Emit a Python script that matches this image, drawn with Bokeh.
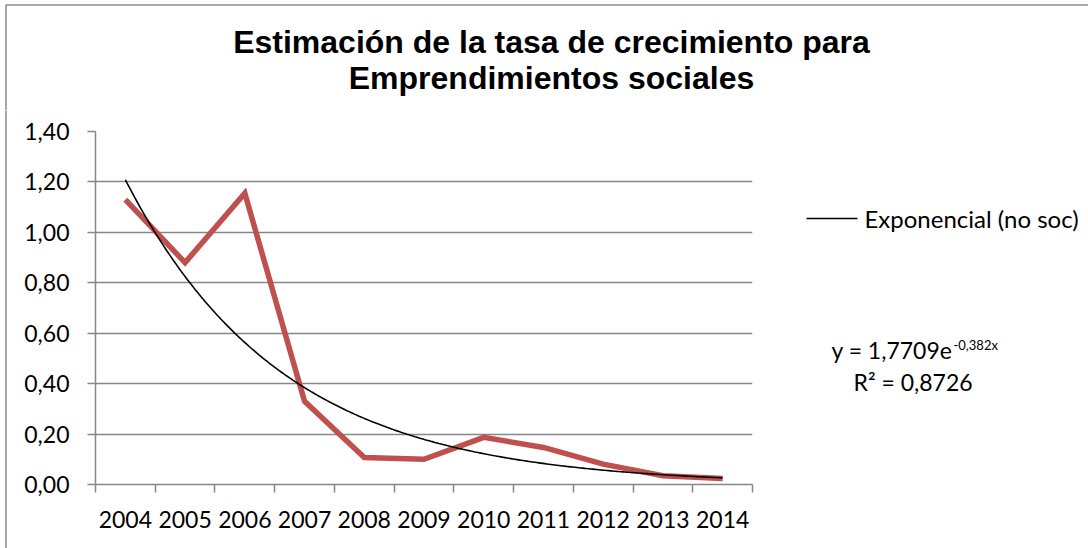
import numpy as np
from bokeh.plotting import figure
from bokeh.layouts import column, row
from bokeh.models import Range1d, FixedTicker, CustomJSTickFormatter, ColumnDataSource
from bokeh.core.properties import value
from bokeh.embed import file_html
from bokeh.resources import INLINE

# ---- data ----
YEARS = ["2004", "2005", "2006", "2007", "2008", "2009", "2010", "2011", "2012", "2013", "2014"]
SOCIAL = [1.13, 0.88, 1.155, 0.33, 0.107, 0.10, 0.187, 0.147, 0.081, 0.035, 0.024]
Y_TICKS = [0.0, 0.2, 0.4, 0.6, 0.8, 1.0, 1.2, 1.4]
TREND_A = 1.7709     # from the printed trendline equation
TREND_B = -0.382
TITLE_1 = "Estimación de la tasa de crecimiento para"
TITLE_2 = "Emprendimientos sociales"
LEGEND_LABEL = "Exponencial (no soc)"
EQ_MAIN = "y = 1,7709e"
EQ_SUP = "-0,382x"
R2_TEXT = "R² = 0,8726"

W, H = 1088, 548
TOP_H = 110            # height of the title strip
STRIP_W = 10           # left border strip
SIDE_X0 = 760          # where the right-hand side panel starts
FL, FR, FT, FB = 95, 752, 131, 484   # plot frame edges in page pixels
N = len(YEARS)
YMAX = 1.4

GRAY = "#878787"
BORDER = "#8c8c8c"
LABEL_FONT = "Lato"


def blank(width, height, x0, x1, y0, y1):
    f = figure(width=width, height=height, output_backend="svg", toolbar_location=None,
               x_range=Range1d(x0, x1), y_range=Range1d(y1, y0),
               x_axis_type=None, y_axis_type=None, min_border=0,
               frame_align=False)
    f.outline_line_color = None
    f.grid.visible = False
    f.background_fill_color = "white"
    f.border_fill_color = "white"
    return f


# ---- title strip (page pixel coordinates, y downward) ----
t = blank(W, TOP_H, 0, W, 0, TOP_H)
t.line([5.5, 5.5, W + 5], [TOP_H + 5, 4.5, 4.5], line_color=BORDER, line_width=1.5)
t.text(x=[551, 551], y=[41, 77], text=[TITLE_1, TITLE_2],
       text_font=value("Liberation Sans"), text_font_style="bold",
       text_font_size="32px", text_align="center", text_baseline="middle",
       text_color="black")

# ---- left border strip ----
ls = blank(STRIP_W, H - TOP_H, 0, STRIP_W, TOP_H, H)
ls.line([5.5, 5.5], [TOP_H - 5, H + 5], line_color=BORDER, line_width=1.5)

# ---- main plot ----
p = figure(width=SIDE_X0 - STRIP_W, height=H - TOP_H, output_backend="svg",
           toolbar_location=None,
           x_range=Range1d(0, N), y_range=Range1d(0, YMAX),
           min_border_left=FL - STRIP_W, min_border_right=SIDE_X0 - FR,
           min_border_top=FT - TOP_H, min_border_bottom=H - FB)
p.outline_line_color = None
p.background_fill_color = "white"
p.border_fill_color = "white"

centers = [i + 0.5 for i in range(N)]
bounds = [float(i) for i in range(N + 1)]
xa = p.xaxis[0]
xa.ticker = FixedTicker(ticks=centers, minor_ticks=bounds)
xa.formatter = CustomJSTickFormatter(args=dict(years=YEARS),
                                     code="return years[Math.round(tick - 0.5)];")
xa.major_tick_out = 0
xa.major_tick_in = 0
xa.minor_tick_out = 8
xa.minor_tick_in = 0
xa.minor_tick_line_color = GRAY
xa.minor_tick_line_width = 1.5
xa.axis_line_color = GRAY
xa.axis_line_width = 1.5
xa.major_label_text_font = LABEL_FONT
xa.major_label_text_font_size = "23px"
xa.major_label_text_color = "black"
xa.major_label_standoff = 18

ya = p.yaxis[0]
ya.ticker = FixedTicker(ticks=Y_TICKS, minor_ticks=[])
ya.formatter = CustomJSTickFormatter(code="return tick.toFixed(2).replace('.', ',');")
ya.major_tick_out = 8
ya.major_tick_in = 0
ya.major_tick_line_color = GRAY
ya.major_tick_line_width = 1.5
ya.minor_tick_line_color = None
ya.axis_line_color = GRAY
ya.axis_line_width = 1.5
ya.major_label_text_font = LABEL_FONT
ya.major_label_text_font_size = "23px"
ya.major_label_text_color = "black"
ya.major_label_standoff = 18

p.xgrid.visible = False
p.ygrid.ticker = FixedTicker(ticks=Y_TICKS)
p.ygrid.grid_line_color = GRAY
p.ygrid.grid_line_width = 1.5

src = ColumnDataSource(dict(x=centers, y=SOCIAL))
p.line("x", "y", source=src, line_color="#C0504D", line_width=5.5, line_join="miter")

tt = np.linspace(1, N, 300)
trend_src = ColumnDataSource(dict(x=tt - 0.5, y=TREND_A * np.exp(TREND_B * tt)))
p.line("x", "y", source=trend_src, line_color="black", line_width=1.6)

# ---- right side panel: legend and equation (page pixel coordinates) ----
s = blank(W - SIDE_X0, H - TOP_H, SIDE_X0, W, TOP_H, H)
s.line([806, 857], [218, 218], line_color="black", line_width=1.6)
s.text(x=[864], y=[218], text=[LEGEND_LABEL], text_font=value(LABEL_FONT),
       text_font_size="24px", text_align="left", text_baseline="middle",
       text_color="black")
s.text(x=[952], y=[349], text=[EQ_MAIN], text_font=value(LABEL_FONT),
       text_font_size="23px", text_align="right", text_baseline="middle",
       text_color="black")
s.text(x=[953], y=[344], text=[EQ_SUP], text_font=value(LABEL_FONT),
       text_font_size="13px", text_align="left", text_baseline="middle",
       text_color="black")
s.text(x=[853], y=[381], text=[R2_TEXT], text_font=value(LABEL_FONT),
       text_font_size="23px", text_align="left", text_baseline="middle",
       text_color="black")

layout = column(t, row(ls, p, s, spacing=0), spacing=0)
open("out.html", "w").write(file_html(layout, INLINE))
